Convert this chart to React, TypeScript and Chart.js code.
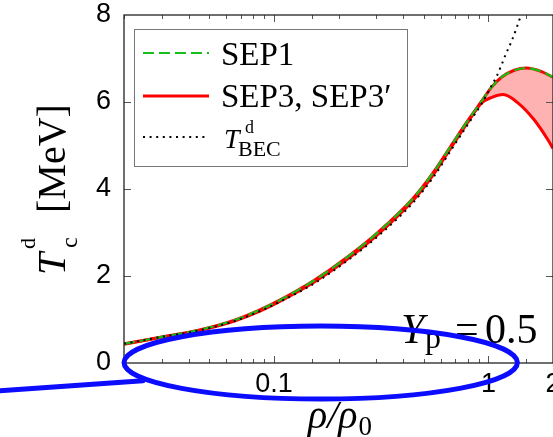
import { useEffect, useRef } from 'react';
import { Chart, registerables } from 'chart.js';

Chart.register(...registerables);

// Density grid (rho / rho0) and critical temperatures in MeV
const densities = [0.02, 0.03, 0.045, 0.065, 0.085, 0.107, 0.153, 0.218, 0.313, 0.448, 0.557, 0.667, 0.798, 0.93, 1.03, 1.15, 1.32, 1.5, 1.77, 2.0];
const sep1 = [0.44, 0.6, 0.76, 0.98, 1.21, 1.45, 1.89, 2.42, 3.05, 3.8, 4.4, 4.98, 5.56, 6.02, 6.33, 6.57, 6.73, 6.78, 6.7, 6.57];
const sep3 = [0.44, 0.6, 0.76, 0.98, 1.21, 1.45, 1.89, 2.42, 3.05, 3.8, 4.4, 4.98, 5.56, 6.02, 6.33, 6.57, 6.73, 6.78, 6.7, 6.57];

const sep3PrimeDensities = [0.02, 0.03, 0.045, 0.065, 0.085, 0.107, 0.153, 0.218, 0.313, 0.448, 0.557, 0.667, 0.798, 0.93, 1.03, 1.17, 1.38, 1.64, 1.9, 2.0];
const sep3Prime = [0.43, 0.59, 0.75, 0.96, 1.18, 1.42, 1.85, 2.37, 3.0, 3.75, 4.35, 4.94, 5.52, 5.98, 6.1, 6.17, 5.97, 5.58, 5.12, 4.93];

const becDensities = [0.02, 0.03, 0.045, 0.065, 0.085, 0.107, 0.153, 0.218, 0.313, 0.448, 0.557, 0.667, 0.798, 0.93, 1.03, 1.09, 1.15, 1.21, 1.28, 1.35, 1.41, 1.5];
const becT = [0.44, 0.6, 0.75, 0.96, 1.18, 1.41, 1.82, 2.34, 2.96, 3.7, 4.29, 4.88, 5.47, 5.96, 6.36, 6.58, 6.85, 7.12, 7.39, 7.69, 7.96, 8.35];

const xTickLabels = [0.1, 1, 2];
const xMajorTicks = [0.1, 1];
const yTickValues = [0, 2, 4, 6, 8];

// Highlight ellipse around the low-density region (data units)
const ellipseX = [0.02, 1.365];
const ellipseY = [-0.83, 0.85];
const pointerFrom = { y: -0.64 };
const pointerTo = { x: 0.0245, y: -0.41 };

const SERIF = '"Liberation Serif", "Times New Roman", serif';
const SANS = '"Liberation Sans", Arial, sans-serif';

const toXY = (xs: number[], ys: number[]) => xs.map((x, i) => ({ x, y: ys[i] }));
const near = (a: number, b: number) => Math.abs(a - b) < 1e-6 * Math.max(Math.abs(b), 1e-9);

const framePlugin = {
  id: 'frame',
  afterDraw(chart: any) {
    const { ctx, chartArea: a, scales } = chart;
    const xs = scales.x;
    const ys = scales.y;
    ctx.save();

    const seg = (x1: number, y1: number, x2: number, y2: number) => {
      ctx.beginPath();
      ctx.moveTo(x1, y1);
      ctx.lineTo(x2, y2);
      ctx.stroke();
    };

    // inward tick marks
    ctx.strokeStyle = '#555';
    ctx.lineWidth = 1;
    ctx.setLineDash([]);
    for (const t of xs.ticks) {
      const px = Math.round(xs.getPixelForValue(t.value)) + 0.5;
      const len = xMajorTicks.some((m) => near(t.value, m)) ? 7 : 4;
      seg(px, a.bottom, px, a.bottom - len);
      seg(px, a.top, px, a.top + len);
    }
    for (const v of yTickValues) {
      if (v === 0 || v === 8) continue;
      const py = Math.round(ys.getPixelForValue(v)) + 0.5;
      seg(a.left, py, a.left + 7, py);
      seg(a.right, py, a.right - 7, py);
    }

    // plot frame
    ctx.strokeStyle = '#222';
    ctx.lineWidth = 1.3;
    ctx.strokeRect(a.left, a.top, a.right - a.left, a.bottom - a.top);

    // legend box
    const lx = 134.5, ly = 29.5, lw = 273, lh = 137;
    ctx.fillStyle = '#fff';
    ctx.fillRect(lx, ly, lw, lh);
    ctx.strokeStyle = '#777';
    ctx.lineWidth = 1;
    ctx.strokeRect(lx, ly, lw, lh);

    const sample = (y: number, color: string, width: number, dash: number[]) => {
      ctx.strokeStyle = color;
      ctx.lineWidth = width;
      ctx.setLineDash(dash);
      seg(143, y, 209, y);
      ctx.setLineDash([]);
    };
    sample(53, '#14c014', 2, [11, 5]);
    sample(96, '#ff0000', 3, []);
    sample(137, '#000', 2, [2, 4.6]);

    ctx.fillStyle = '#000';
    ctx.textBaseline = 'alphabetic';
    ctx.textAlign = 'left';
    ctx.font = `33px ${SERIF}`;
    ctx.fillText('SEP1', 221, 65);
    ctx.fillText('SEP3, SEP3\u2032', 221, 107);
    ctx.font = `italic 28px ${SERIF}`;
    ctx.fillText('T', 224, 148);
    ctx.font = `18px ${SERIF}`;
    ctx.fillText('d', 245, 133);
    ctx.font = `22px ${SERIF}`;
    ctx.fillText('BEC', 238, 156);

    // proton fraction label
    ctx.font = `italic 42px ${SERIF}`;
    ctx.fillText('Y', 401, 343);
    ctx.font = `32px ${SERIF}`;
    ctx.fillText('p', 425, 348);
    ctx.font = `42px ${SERIF}`;
    ctx.fillText('=', 455, 343);
    ctx.fillText('0.5', 485, 343);

    // x-axis title
    ctx.font = `italic 40px ${SERIF}`;
    const main = '\u03C1/\u03C1';
    ctx.fillText(main, 308, 428);
    const mw = ctx.measureText(main).width;
    ctx.font = `27px ${SERIF}`;
    ctx.fillText('0', 308 + mw + 1, 435);

    // y-axis title (rotated)
    ctx.save();
    ctx.translate(65, 275);
    ctx.rotate(-Math.PI / 2);
    ctx.font = `italic 40px ${SERIF}`;
    ctx.fillText('T', 0, 0);
    ctx.font = `22px ${SERIF}`;
    ctx.fillText('d', 26, -30);
    ctx.font = `24px ${SERIF}`;
    ctx.fillText('c', 27, 12);
    ctx.font = `40px ${SERIF}`;
    ctx.fillText('[MeV]', 62, 0);
    ctx.restore();

    // highlight ellipse and pointer line
    const exL = xs.getPixelForValue(ellipseX[0]);
    const exR = xs.getPixelForValue(ellipseX[1]);
    const eyB = ys.getPixelForValue(ellipseY[0]);
    const eyT = ys.getPixelForValue(ellipseY[1]);
    ctx.strokeStyle = '#0c0cff';
    ctx.lineWidth = 5;
    ctx.beginPath();
    ctx.ellipse((exL + exR) / 2, (eyB + eyT) / 2, (exR - exL) / 2, (eyB - eyT) / 2, 0, 0, Math.PI * 2);
    ctx.stroke();
    ctx.lineCap = 'round';
    seg(0, ys.getPixelForValue(pointerFrom.y), xs.getPixelForValue(pointerTo.x), ys.getPixelForValue(pointerTo.y));

    ctx.restore();
  },
};

export default function App() {
  const canvasRef = useRef<HTMLCanvasElement | null>(null);

  useEffect(() => {
    const canvas = canvasRef.current;
    if (!canvas) return;
    const chart = new Chart(canvas, {
      type: 'line',
      data: {
        datasets: [
          {
            label: 'T_BEC',
            data: toXY(becDensities, becT),
            borderColor: '#000',
            borderWidth: 2,
            borderDash: [2, 4.6],
            pointRadius: 0,
            fill: false,
            cubicInterpolationMode: 'monotone',
          },
          {
            label: 'SEP1',
            data: toXY(densities, sep1),
            borderColor: '#14c014',
            borderWidth: 2.2,
            borderDash: [11, 5],
            pointRadius: 0,
            fill: false,
            cubicInterpolationMode: 'monotone',
          },
          {
            label: 'SEP3',
            data: toXY(densities, sep3),
            borderColor: '#ff0000',
            borderWidth: 3,
            pointRadius: 0,
            fill: { target: '+1' },
            backgroundColor: 'rgba(255,0,0,0.3)',
            cubicInterpolationMode: 'monotone',
          },
          {
            label: "SEP3'",
            data: toXY(sep3PrimeDensities, sep3Prime),
            borderColor: '#ff0000',
            borderWidth: 3,
            pointRadius: 0,
            fill: false,
            cubicInterpolationMode: 'monotone',
          },
        ],
      },
      options: {
        animation: false,
        responsive: false,
        devicePixelRatio: 1,
        layout: { padding: { top: 15, right: 0, bottom: 0, left: 0 }, autoPadding: false } as any,
        plugins: {
          legend: { display: false },
          tooltip: { enabled: false },
          filler: { drawTime: 'beforeDatasetsDraw' },
        },
        scales: {
          x: {
            type: 'logarithmic',
            min: 0.02,
            max: 2,
            grid: { display: false, drawTicks: false },
            border: { display: false },
            afterFit: (s: any) => {
              s.height = 74;
              s.paddingLeft = 0;
              s.paddingRight = 0;
            },
            ticks: {
              autoSkip: false,
              maxRotation: 0,
              minRotation: 0,
              padding: 5,
              color: '#000',
              font: { family: SANS, size: 27 },
              callback: (v: any) => {
                const n = Number(v);
                const hit = xTickLabels.find((t) => near(n, t));
                return hit === undefined ? '' : String(hit);
              },
            },
          },
          y: {
            type: 'linear',
            min: 0,
            max: 8,
            grid: { display: false, drawTicks: false },
            border: { display: false },
            afterFit: (s: any) => {
              s.width = 124;
              s.paddingTop = 0;
              s.paddingBottom = 0;
            },
            afterBuildTicks: (s: any) => {
              s.ticks = yTickValues.map((v) => ({ value: v }));
            },
            ticks: {
              padding: 13,
              color: '#000',
              font: { family: SANS, size: 27 },
            },
          },
        },
      },
      plugins: [framePlugin],
    });
    return () => chart.destroy();
  }, []);

  return (
    <div style={{ position: 'fixed', left: 0, top: 0, width: 553, height: 437, background: '#fff' }}>
      <canvas ref={canvasRef} width={553} height={437} style={{ display: 'block' }} />
    </div>
  );
}
